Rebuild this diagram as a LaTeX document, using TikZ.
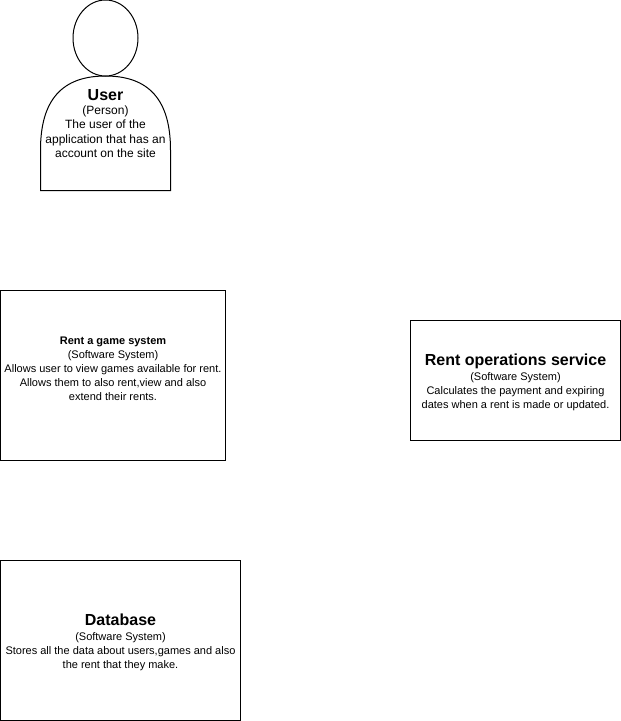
\documentclass[tikz,border=0pt]{standalone}
\usepackage{fontspec}
\usetikzlibrary{shapes.geometric}
\setmainfont{Liberation Sans}
\tikzset{
  x=1pt,y=-1pt,
  sysbox/.style={draw=black,fill=white,line width=1pt,inner sep=0pt},
  lbl/.style={align=center,inner sep=0pt,font=\fontsize{11}{14}\selectfont},
  lblbig/.style={lbl,font=\fontsize{12}{14.3}\selectfont}
}
\newcommand{\ttl}[1]{{\fontsize{16}{18}\selectfont\bfseries #1}}
\begin{document}
\begin{tikzpicture}
\useasboundingbox (0,0) rectangle (621,721);
\draw[line width=1pt,fill=white] (40.5,190.5) -- (40.5,150) .. controls (40.5,100) and (62,76) .. (105.5,76) .. controls (149,76) and (170.5,100) .. (170.5,150) -- (170.5,190.5) -- cycle;
\node[draw,fill=white,ellipse,line width=1pt,minimum width=65pt,minimum height=76pt,inner sep=0pt] (head) at (105.5,38) {};
\node[lblbig] (user) at (105.5,123.5) {\ttl{User}\\(Person)\\The user of the\\application that has an\\account on the site};
\node[sysbox,minimum width=225pt,minimum height=170pt] (rent) at (113,375.5) {};
\node[lbl] (rentt) at (113,369) {\textbf{Rent a game system}\\(Software System)\\Allows user to view games available for rent.\\Allows them to also rent,view and also\\extend their rents.};
\node[sysbox,minimum width=210pt,minimum height=120pt] (ops) at (515.5,380.5) {};
\node[lbl] (opst) at (515.5,382) {\ttl{Rent operations service}\\[1pt](Software System)\\Calculates the payment and expiring\\dates when a rent is made or updated.};
\node[sysbox,minimum width=240pt,minimum height=160pt] (db) at (120.5,640.5) {};
\node[lbl] (dbt) at (120.5,642) {\ttl{Database}\\[1pt](Software System)\\Stores all the data about users,games and also\\the rent that they make.};
\end{tikzpicture}
\end{document}
